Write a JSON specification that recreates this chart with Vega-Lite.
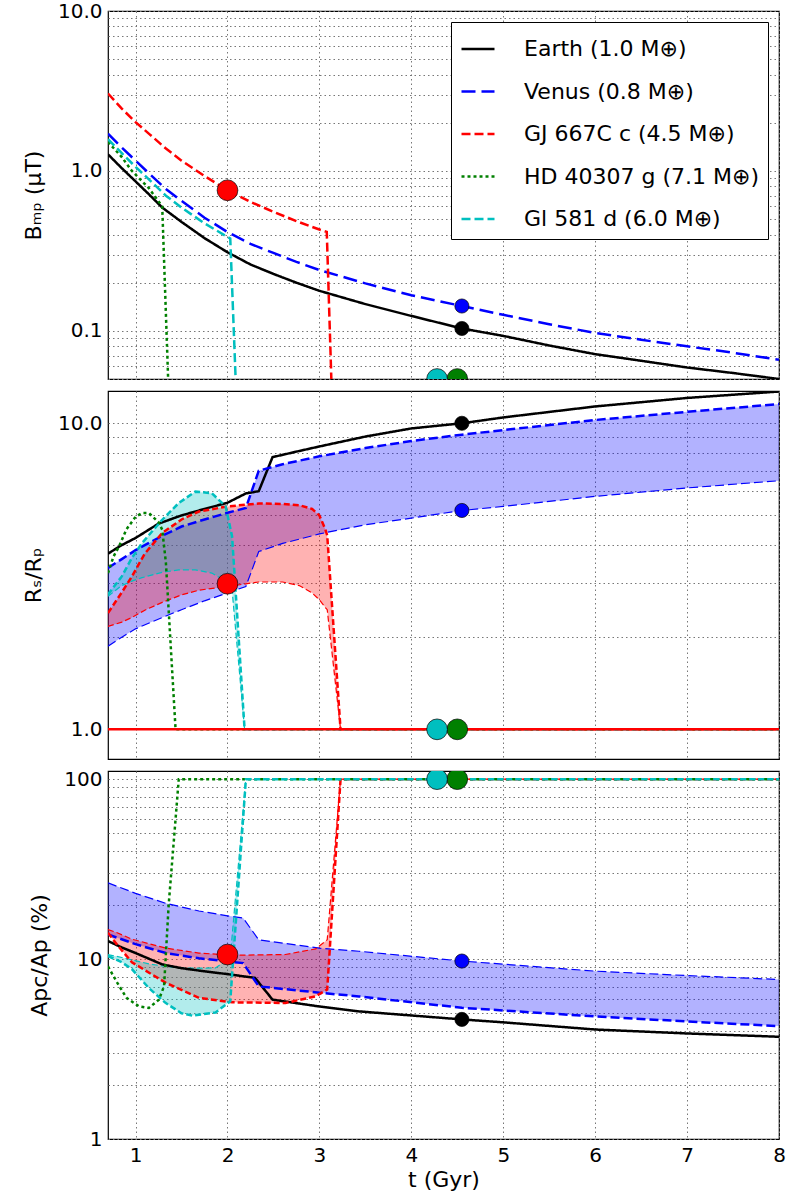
{
"$schema":"https://vega.github.io/schema/vega-lite/v6.json",
"background":"white",
"padding":{"left":21,"top":0,"right":2,"bottom":5},
"config":{
 "font":"DejaVu Sans",
 "view":{"stroke":"black","strokeWidth":1.2},
 "axis":{"labelFont":"DejaVu Sans","labelFontSize":20,"labelColor":"black","titleFont":"DejaVu Sans","titleFontSize":22,"titleFontWeight":"normal","titleColor":"black","grid":true,"gridColor":"#777","gridDash":[1.5,3],"gridWidth":1,"gridOpacity":1,"ticks":false,"domain":false,"labelPadding":6,"labelFlush":false,"labelOverlap":false},
 "legend":{"labelFont":"DejaVu Sans","labelFontSize":22,"labelColor":"black","labelLimit":500}
},
"datasets":{
"p1":[
{"p":"Earth (1.0 M⊕)","t":0.7,"m":1.27},{"p":"Earth (1.0 M⊕)","t":0.85,"m":1.04},{"p":"Earth (1.0 M⊕)","t":1.0,"m":0.86},{"p":"Earth (1.0 M⊕)","t":1.15,"m":0.71},{"p":"Earth (1.0 M⊕)","t":1.29,"m":0.59},{"p":"Earth (1.0 M⊕)","t":1.5,"m":0.48},{"p":"Earth (1.0 M⊕)","t":1.75,"m":0.38},{"p":"Earth (1.0 M⊕)","t":2.0,"m":0.31},{"p":"Earth (1.0 M⊕)","t":2.25,"m":0.26},{"p":"Earth (1.0 M⊕)","t":2.5,"m":0.227},{"p":"Earth (1.0 M⊕)","t":2.75,"m":0.2},{"p":"Earth (1.0 M⊕)","t":3.0,"m":0.178},{"p":"Earth (1.0 M⊕)","t":3.5,"m":0.147},{"p":"Earth (1.0 M⊕)","t":4.0,"m":0.124},{"p":"Earth (1.0 M⊕)","t":4.55,"m":0.1035},{"p":"Earth (1.0 M⊕)","t":5.0,"m":0.093},{"p":"Earth (1.0 M⊕)","t":5.5,"m":0.081},{"p":"Earth (1.0 M⊕)","t":6.0,"m":0.0715},{"p":"Earth (1.0 M⊕)","t":6.5,"m":0.065},{"p":"Earth (1.0 M⊕)","t":7.0,"m":0.059},{"p":"Earth (1.0 M⊕)","t":7.5,"m":0.0545},{"p":"Earth (1.0 M⊕)","t":8.0,"m":0.05},
{"p":"Venus (0.8 M⊕)","t":0.7,"m":1.71},{"p":"Venus (0.8 M⊕)","t":0.85,"m":1.4},{"p":"Venus (0.8 M⊕)","t":1.0,"m":1.16},{"p":"Venus (0.8 M⊕)","t":1.15,"m":0.96},{"p":"Venus (0.8 M⊕)","t":1.33,"m":0.77},{"p":"Venus (0.8 M⊕)","t":1.5,"m":0.65},{"p":"Venus (0.8 M⊕)","t":1.75,"m":0.51},{"p":"Venus (0.8 M⊕)","t":2.0,"m":0.415},{"p":"Venus (0.8 M⊕)","t":2.25,"m":0.35},{"p":"Venus (0.8 M⊕)","t":2.5,"m":0.307},{"p":"Venus (0.8 M⊕)","t":2.75,"m":0.27},{"p":"Venus (0.8 M⊕)","t":3.0,"m":0.24},{"p":"Venus (0.8 M⊕)","t":3.5,"m":0.198},{"p":"Venus (0.8 M⊕)","t":4.0,"m":0.167},{"p":"Venus (0.8 M⊕)","t":4.55,"m":0.143},{"p":"Venus (0.8 M⊕)","t":5.0,"m":0.126},{"p":"Venus (0.8 M⊕)","t":5.5,"m":0.11},{"p":"Venus (0.8 M⊕)","t":6.0,"m":0.097},{"p":"Venus (0.8 M⊕)","t":6.5,"m":0.088},{"p":"Venus (0.8 M⊕)","t":7.0,"m":0.08},{"p":"Venus (0.8 M⊕)","t":7.5,"m":0.073},{"p":"Venus (0.8 M⊕)","t":8.0,"m":0.066},
{"p":"GJ 667C c (4.5 M⊕)","t":0.7,"m":3.05},{"p":"GJ 667C c (4.5 M⊕)","t":0.85,"m":2.45},{"p":"GJ 667C c (4.5 M⊕)","t":1.0,"m":2.02},{"p":"GJ 667C c (4.5 M⊕)","t":1.15,"m":1.7},{"p":"GJ 667C c (4.5 M⊕)","t":1.33,"m":1.38},{"p":"GJ 667C c (4.5 M⊕)","t":1.5,"m":1.16},{"p":"GJ 667C c (4.5 M⊕)","t":1.75,"m":0.93},{"p":"GJ 667C c (4.5 M⊕)","t":2.0,"m":0.757},{"p":"GJ 667C c (4.5 M⊕)","t":2.25,"m":0.64},{"p":"GJ 667C c (4.5 M⊕)","t":2.5,"m":0.555},{"p":"GJ 667C c (4.5 M⊕)","t":2.75,"m":0.485},{"p":"GJ 667C c (4.5 M⊕)","t":3.0,"m":0.43},{"p":"GJ 667C c (4.5 M⊕)","t":3.08,"m":0.416},{"p":"GJ 667C c (4.5 M⊕)","t":3.135,"m":0.04},
{"p":"HD 40307 g (7.1 M⊕)","t":0.7,"m":1.52},{"p":"HD 40307 g (7.1 M⊕)","t":0.85,"m":1.22},{"p":"HD 40307 g (7.1 M⊕)","t":0.96,"m":1.0},{"p":"HD 40307 g (7.1 M⊕)","t":1.145,"m":0.78},{"p":"HD 40307 g (7.1 M⊕)","t":1.29,"m":0.6},{"p":"HD 40307 g (7.1 M⊕)","t":1.36,"m":0.04},
{"p":"Gl 581 d (6.0 M⊕)","t":0.7,"m":1.58},{"p":"Gl 581 d (6.0 M⊕)","t":0.85,"m":1.29},{"p":"Gl 581 d (6.0 M⊕)","t":1.0,"m":1.06},{"p":"Gl 581 d (6.0 M⊕)","t":1.15,"m":0.88},{"p":"Gl 581 d (6.0 M⊕)","t":1.33,"m":0.7},{"p":"Gl 581 d (6.0 M⊕)","t":1.5,"m":0.59},{"p":"Gl 581 d (6.0 M⊕)","t":1.75,"m":0.47},{"p":"Gl 581 d (6.0 M⊕)","t":2.03,"m":0.378},{"p":"Gl 581 d (6.0 M⊕)","t":2.095,"m":0.04}
],
"k1":[
{"p":"Earth (1.0 M⊕)","t":4.55,"m":0.1035,"big":false},{"p":"Venus (0.8 M⊕)","t":4.55,"m":0.143,"big":false},{"p":"GJ 667C c (4.5 M⊕)","t":2.0,"m":0.757,"big":true},{"p":"HD 40307 g (7.1 M⊕)","t":4.5,"m":0.05,"big":true},{"p":"Gl 581 d (6.0 M⊕)","t":4.28,"m":0.05,"big":true}
],
"p2":[
{"p":"Earth (1.0 M⊕)","t":0.7,"m":3.75},{"p":"Earth (1.0 M⊕)","t":0.85,"m":4.0},{"p":"Earth (1.0 M⊕)","t":1.0,"m":4.22},{"p":"Earth (1.0 M⊕)","t":1.25,"m":4.7},{"p":"Earth (1.0 M⊕)","t":1.5,"m":5.0},{"p":"Earth (1.0 M⊕)","t":1.75,"m":5.25},{"p":"Earth (1.0 M⊕)","t":2.0,"m":5.5},{"p":"Earth (1.0 M⊕)","t":2.2,"m":5.9},{"p":"Earth (1.0 M⊕)","t":2.34,"m":6.0},{"p":"Earth (1.0 M⊕)","t":2.49,"m":7.75},{"p":"Earth (1.0 M⊕)","t":2.75,"m":8.08},{"p":"Earth (1.0 M⊕)","t":3.0,"m":8.4},{"p":"Earth (1.0 M⊕)","t":3.5,"m":9.05},{"p":"Earth (1.0 M⊕)","t":4.0,"m":9.62},{"p":"Earth (1.0 M⊕)","t":4.55,"m":10.0},{"p":"Earth (1.0 M⊕)","t":5.0,"m":10.45},{"p":"Earth (1.0 M⊕)","t":6.0,"m":11.35},{"p":"Earth (1.0 M⊕)","t":7.0,"m":12.1},{"p":"Earth (1.0 M⊕)","t":8.0,"m":12.7},
{"p":"Venus (0.8 M⊕)","t":0.7,"m":3.37,"a":1.87},{"p":"Venus (0.8 M⊕)","t":0.85,"m":3.6,"a":2.0},{"p":"Venus (0.8 M⊕)","t":1.0,"m":3.85,"a":2.13},{"p":"Venus (0.8 M⊕)","t":1.29,"m":4.29,"a":2.32},{"p":"Venus (0.8 M⊕)","t":1.5,"m":4.6,"a":2.46},{"p":"Venus (0.8 M⊕)","t":1.75,"m":4.85,"a":2.63},{"p":"Venus (0.8 M⊕)","t":2.0,"m":5.1,"a":2.79},{"p":"Venus (0.8 M⊕)","t":2.2,"m":5.29,"a":2.93},{"p":"Venus (0.8 M⊕)","t":2.34,"m":7.0,"a":3.81},{"p":"Venus (0.8 M⊕)","t":2.6,"m":7.35,"a":4.05},{"p":"Venus (0.8 M⊕)","t":3.0,"m":7.8,"a":4.35},{"p":"Venus (0.8 M⊕)","t":3.5,"m":8.3,"a":4.66},{"p":"Venus (0.8 M⊕)","t":4.0,"m":8.75,"a":4.9},{"p":"Venus (0.8 M⊕)","t":4.55,"m":9.18,"a":5.19},{"p":"Venus (0.8 M⊕)","t":5.0,"m":9.5,"a":5.35},{"p":"Venus (0.8 M⊕)","t":6.0,"m":10.25,"a":5.77},{"p":"Venus (0.8 M⊕)","t":7.0,"m":10.9,"a":6.15},{"p":"Venus (0.8 M⊕)","t":8.0,"m":11.56,"a":6.49},
{"p":"GJ 667C c (4.5 M⊕)","t":0.7,"m":2.4,"a":2.17},{"p":"GJ 667C c (4.5 M⊕)","t":0.85,"m":2.8,"a":2.24},{"p":"GJ 667C c (4.5 M⊕)","t":0.96,"m":3.16,"a":2.32},{"p":"GJ 667C c (4.5 M⊕)","t":1.1,"m":3.75,"a":2.45},{"p":"GJ 667C c (4.5 M⊕)","t":1.29,"m":4.38,"a":2.6},{"p":"GJ 667C c (4.5 M⊕)","t":1.5,"m":4.85,"a":2.75},{"p":"GJ 667C c (4.5 M⊕)","t":1.69,"m":5.15,"a":2.85},{"p":"GJ 667C c (4.5 M⊕)","t":2.0,"m":5.35,"a":2.93},{"p":"GJ 667C c (4.5 M⊕)","t":2.34,"m":5.47,"a":3.03},{"p":"GJ 667C c (4.5 M⊕)","t":2.6,"m":5.45,"a":3.03},{"p":"GJ 667C c (4.5 M⊕)","t":2.78,"m":5.4,"a":2.95},{"p":"GJ 667C c (4.5 M⊕)","t":2.92,"m":5.25,"a":2.79},{"p":"GJ 667C c (4.5 M⊕)","t":3.0,"m":5.0,"a":2.65},{"p":"GJ 667C c (4.5 M⊕)","t":3.065,"m":4.5,"a":2.5},{"p":"GJ 667C c (4.5 M⊕)","t":3.085,"m":4.3,"a":2.46},{"p":"GJ 667C c (4.5 M⊕)","t":3.23,"m":1.0,"a":1.0},{"p":"GJ 667C c (4.5 M⊕)","t":8.0,"m":1.0,"a":1.0},
{"p":"HD 40307 g (7.1 M⊕)","t":0.7,"m":3.24},{"p":"HD 40307 g (7.1 M⊕)","t":0.76,"m":3.67},{"p":"HD 40307 g (7.1 M⊕)","t":0.82,"m":3.96},{"p":"HD 40307 g (7.1 M⊕)","t":0.9,"m":4.5},{"p":"HD 40307 g (7.1 M⊕)","t":1.0,"m":4.95},{"p":"HD 40307 g (7.1 M⊕)","t":1.07,"m":5.09},{"p":"HD 40307 g (7.1 M⊕)","t":1.145,"m":5.09},{"p":"HD 40307 g (7.1 M⊕)","t":1.25,"m":4.75},{"p":"HD 40307 g (7.1 M⊕)","t":1.29,"m":4.49},{"p":"HD 40307 g (7.1 M⊕)","t":1.33,"m":3.5},{"p":"HD 40307 g (7.1 M⊕)","t":1.435,"m":1.0},{"p":"HD 40307 g (7.1 M⊕)","t":8.0,"m":1.0},
{"p":"Gl 581 d (6.0 M⊕)","t":0.7,"m":2.76,"a":2.72},{"p":"Gl 581 d (6.0 M⊕)","t":0.85,"m":3.16,"a":2.95},{"p":"Gl 581 d (6.0 M⊕)","t":0.96,"m":3.63,"a":3.05},{"p":"Gl 581 d (6.0 M⊕)","t":1.07,"m":4.06,"a":3.13},{"p":"Gl 581 d (6.0 M⊕)","t":1.29,"m":4.84,"a":3.26},{"p":"Gl 581 d (6.0 M⊕)","t":1.47,"m":5.49,"a":3.32},{"p":"Gl 581 d (6.0 M⊕)","t":1.65,"m":5.98,"a":3.32},{"p":"Gl 581 d (6.0 M⊕)","t":1.83,"m":5.91,"a":3.24},{"p":"Gl 581 d (6.0 M⊕)","t":1.98,"m":5.35,"a":3.05},{"p":"Gl 581 d (6.0 M⊕)","t":2.05,"m":4.27,"a":2.85},{"p":"Gl 581 d (6.0 M⊕)","t":2.186,"m":1.0,"a":1.0},{"p":"Gl 581 d (6.0 M⊕)","t":8.0,"m":1.0,"a":1.0}
],
"k2":[
{"p":"Earth (1.0 M⊕)","t":4.55,"m":10.0,"big":false},{"p":"Venus (0.8 M⊕)","t":4.55,"m":5.19,"big":false},{"p":"GJ 667C c (4.5 M⊕)","t":2.0,"m":2.99,"big":true},{"p":"HD 40307 g (7.1 M⊕)","t":4.5,"m":1.0,"big":true},{"p":"Gl 581 d (6.0 M⊕)","t":4.28,"m":1.0,"big":true}
],
"p3":[
{"p":"Earth (1.0 M⊕)","t":0.7,"m":12.6},{"p":"Earth (1.0 M⊕)","t":0.85,"m":11.6},{"p":"Earth (1.0 M⊕)","t":1.0,"m":10.8},{"p":"Earth (1.0 M⊕)","t":1.29,"m":9.34},{"p":"Earth (1.0 M⊕)","t":1.5,"m":8.9},{"p":"Earth (1.0 M⊕)","t":1.75,"m":8.55},{"p":"Earth (1.0 M⊕)","t":2.0,"m":8.25},{"p":"Earth (1.0 M⊕)","t":2.3,"m":7.86},{"p":"Earth (1.0 M⊕)","t":2.49,"m":5.95},{"p":"Earth (1.0 M⊕)","t":3.0,"m":5.45},{"p":"Earth (1.0 M⊕)","t":3.43,"m":5.12},{"p":"Earth (1.0 M⊕)","t":4.55,"m":4.62},{"p":"Earth (1.0 M⊕)","t":5.0,"m":4.45},{"p":"Earth (1.0 M⊕)","t":6.0,"m":4.06},{"p":"Earth (1.0 M⊕)","t":7.0,"m":3.86},{"p":"Earth (1.0 M⊕)","t":8.0,"m":3.7},
{"p":"Venus (0.8 M⊕)","t":0.7,"m":13.7,"a":26.5},{"p":"Venus (0.8 M⊕)","t":1.0,"m":12.1,"a":23.2},{"p":"Venus (0.8 M⊕)","t":1.33,"m":10.8,"a":20.4},{"p":"Venus (0.8 M⊕)","t":1.69,"m":10.1,"a":18.5},{"p":"Venus (0.8 M⊕)","t":2.0,"m":9.7,"a":17.4},{"p":"Venus (0.8 M⊕)","t":2.17,"m":9.5,"a":16.9},{"p":"Venus (0.8 M⊕)","t":2.34,"m":7.05,"a":12.8},{"p":"Venus (0.8 M⊕)","t":3.0,"m":6.5,"a":11.5},{"p":"Venus (0.8 M⊕)","t":3.43,"m":6.2,"a":11.05},{"p":"Venus (0.8 M⊕)","t":4.55,"m":5.36,"a":9.75},{"p":"Venus (0.8 M⊕)","t":6.0,"m":4.8,"a":8.57},{"p":"Venus (0.8 M⊕)","t":7.0,"m":4.5,"a":8.1},{"p":"Venus (0.8 M⊕)","t":8.0,"m":4.24,"a":7.7},
{"p":"GJ 667C c (4.5 M⊕)","t":0.7,"m":14.0,"a":14.6},{"p":"GJ 667C c (4.5 M⊕)","t":0.8,"m":12.0,"a":14.0},{"p":"GJ 667C c (4.5 M⊕)","t":0.96,"m":9.6,"a":12.9},{"p":"GJ 667C c (4.5 M⊕)","t":1.33,"m":7.37,"a":11.5},{"p":"GJ 667C c (4.5 M⊕)","t":1.69,"m":6.09,"a":10.8},{"p":"GJ 667C c (4.5 M⊕)","t":2.05,"m":5.75,"a":10.5},{"p":"GJ 667C c (4.5 M⊕)","t":2.63,"m":5.7,"a":10.6},{"p":"GJ 667C c (4.5 M⊕)","t":2.96,"m":6.21,"a":11.4},{"p":"GJ 667C c (4.5 M⊕)","t":3.085,"m":6.78,"a":12.8},{"p":"GJ 667C c (4.5 M⊕)","t":3.23,"m":100,"a":100},{"p":"GJ 667C c (4.5 M⊕)","t":8.0,"m":100,"a":100},
{"p":"HD 40307 g (7.1 M⊕)","t":0.7,"m":9.1},{"p":"HD 40307 g (7.1 M⊕)","t":0.8,"m":7.4},{"p":"HD 40307 g (7.1 M⊕)","t":0.9,"m":6.1},{"p":"HD 40307 g (7.1 M⊕)","t":1.036,"m":5.46},{"p":"HD 40307 g (7.1 M⊕)","t":1.145,"m":5.35},{"p":"HD 40307 g (7.1 M⊕)","t":1.254,"m":5.95},{"p":"HD 40307 g (7.1 M⊕)","t":1.31,"m":7.07},{"p":"HD 40307 g (7.1 M⊕)","t":1.36,"m":20},{"p":"HD 40307 g (7.1 M⊕)","t":1.47,"m":100},{"p":"HD 40307 g (7.1 M⊕)","t":8.0,"m":100},
{"p":"Gl 581 d (6.0 M⊕)","t":0.7,"m":10.4,"a":10.6},{"p":"Gl 581 d (6.0 M⊕)","t":0.85,"m":9.6,"a":10.2},{"p":"Gl 581 d (6.0 M⊕)","t":0.96,"m":8.8,"a":9.9},{"p":"Gl 581 d (6.0 M⊕)","t":1.145,"m":6.9,"a":9.4},{"p":"Gl 581 d (6.0 M⊕)","t":1.326,"m":5.71,"a":9.1},{"p":"Gl 581 d (6.0 M⊕)","t":1.5,"m":5.0,"a":8.93},{"p":"Gl 581 d (6.0 M⊕)","t":1.616,"m":4.85,"a":8.9},{"p":"Gl 581 d (6.0 M⊕)","t":1.87,"m":5.05,"a":8.93},{"p":"Gl 581 d (6.0 M⊕)","t":2.03,"m":5.83,"a":10.2},{"p":"Gl 581 d (6.0 M⊕)","t":2.2,"m":100,"a":100},{"p":"Gl 581 d (6.0 M⊕)","t":8.0,"m":100,"a":100}
],
"k3":[
{"p":"Earth (1.0 M⊕)","t":4.55,"m":4.62,"big":false},{"p":"Venus (0.8 M⊕)","t":4.55,"m":9.75,"big":false},{"p":"GJ 667C c (4.5 M⊕)","t":2.0,"m":10.6,"big":true},{"p":"HD 40307 g (7.1 M⊕)","t":4.5,"m":100,"big":true},{"p":"Gl 581 d (6.0 M⊕)","t":4.28,"m":100,"big":true}
]
},
"spacing":12,
"bounds":"flush",
"resolve":{"scale":{"color":"independent","strokeDash":"independent","fill":"independent"}},
"vconcat":[
{
 "width":671,"height":368,
 "layer":[
  {"data":{"name":"p1"},
   "mark":{"type":"line","clip":true,"strokeWidth":2.5},
   "encoding":{
    "x":{"field":"t","type":"quantitative","scale":{"domain":[0.7,8],"nice":false,"zero":false},"axis":{"values":[1,2,3,4,5,6,7,8],"labels":false,"title":null}},
    "y":{"field":"m","type":"quantitative","scale":{"type":"log","domain":[0.05,10],"nice":false},"axis":{"values":[0.05,0.06,0.07,0.08,0.09,0.1,0.2,0.3,0.4,0.5,0.6,0.7,0.8,0.9,1,2,3,4,5,6,7,8,9,10],"labelExpr":"datum.value == 10 ? '10.0' : datum.value == 1 ? '1.0' : datum.value == 0.1 ? '0.1' : ''","title":"Bₘₚ (μT)","titlePadding":12}},
    "color":{"field":"p","type":"nominal","scale":{"domain":["Earth (1.0 M⊕)","Venus (0.8 M⊕)","GJ 667C c (4.5 M⊕)","HD 40307 g (7.1 M⊕)","Gl 581 d (6.0 M⊕)"],"range":["#000000","#0000ff","#ff0000","#008000","#00bfbf"]},"legend":{"title":null,"orient":"top-right","offset":11,"padding":9,"rowPadding":13.5,"strokeColor":"black","fillColor":"white","cornerRadius":0,"symbolType":"stroke","symbolSize":1089,"symbolStrokeWidth":2.5,"labelOffset":28}},
    "strokeDash":{"field":"p","type":"nominal","scale":{"domain":["Earth (1.0 M⊕)","Venus (0.8 M⊕)","GJ 667C c (4.5 M⊕)","HD 40307 g (7.1 M⊕)","Gl 581 d (6.0 M⊕)"],"range":[[1,0],[14,6],[9,4],[3,3],[9,4]]},"legend":{"title":null,"orient":"top-right","offset":11,"padding":9,"rowPadding":13.5,"strokeColor":"black","fillColor":"white","cornerRadius":0,"symbolType":"stroke","symbolSize":1089,"symbolStrokeWidth":2.5,"labelOffset":28}}
   }},
  {"data":{"name":"k1"},
   "transform":[{"filter":"!datum.big"}],
   "mark":{"type":"point","shape":"circle","filled":true,"opacity":1,"stroke":"black","strokeWidth":0.7,"clip":true,"size":200},
   "encoding":{
    "x":{"field":"t","type":"quantitative"},
    "y":{"field":"m","type":"quantitative"},
    "fill":{"field":"p","type":"nominal","scale":{"domain":["Earth (1.0 M⊕)","Venus (0.8 M⊕)","GJ 667C c (4.5 M⊕)","HD 40307 g (7.1 M⊕)","Gl 581 d (6.0 M⊕)"],"range":["#000000","#0000ff","#ff0000","#008000","#00bfbf"]},"legend":null}
   }},
  {"data":{"name":"k1"},
   "transform":[{"filter":"datum.big"}],
   "mark":{"type":"point","shape":"circle","filled":true,"opacity":1,"stroke":"black","strokeWidth":0.7,"clip":true,"size":430},
   "encoding":{
    "x":{"field":"t","type":"quantitative"},
    "y":{"field":"m","type":"quantitative"},
    "fill":{"field":"p","type":"nominal","legend":null}
   }}
 ]
},
{
 "width":671,"height":368,
 "layer":[
  {"data":{"name":"p2"},
   "transform":[{"filter":"isValid(datum.a)"}],
   "mark":{"type":"area","opacity":0.3,"clip":true},
   "encoding":{
    "x":{"field":"t","type":"quantitative","scale":{"domain":[0.7,8],"nice":false,"zero":false},"axis":{"values":[1,2,3,4,5,6,7,8],"labels":false,"title":null}},
    "y":{"field":"m","type":"quantitative","scale":{"type":"log","domain":[0.8,12.75],"nice":false},"axis":{"values":[1,2,3,4,5,6,7,8,9,10],"labelExpr":"datum.value == 10 ? '10.0' : datum.value == 1 ? '1.0' : ''","title":"Rₛ/Rₚ","titlePadding":12}},
    "y2":{"field":"a"},
    "color":{"field":"p","type":"nominal","scale":{"domain":["Earth (1.0 M⊕)","Venus (0.8 M⊕)","GJ 667C c (4.5 M⊕)","HD 40307 g (7.1 M⊕)","Gl 581 d (6.0 M⊕)"],"range":["#000000","#0000ff","#ff0000","#008000","#00bfbf"]},"legend":null}
   }},
  {"data":{"name":"p2"},
   "transform":[{"filter":"isValid(datum.a)"}],
   "mark":{"type":"line","clip":true,"strokeWidth":1.2},
   "encoding":{
    "x":{"field":"t","type":"quantitative"},
    "y":{"field":"a","type":"quantitative"},
    "color":{"field":"p","type":"nominal","legend":null},
    "strokeDash":{"field":"p","type":"nominal","scale":{"domain":["Earth (1.0 M⊕)","Venus (0.8 M⊕)","GJ 667C c (4.5 M⊕)","HD 40307 g (7.1 M⊕)","Gl 581 d (6.0 M⊕)"],"range":[[1,0],[9,4],[6,3],[3,3],[6,3]]},"legend":null}
   }},
  {"data":{"name":"p2"},
   "mark":{"type":"line","clip":true,"strokeWidth":2.5},
   "encoding":{
    "x":{"field":"t","type":"quantitative"},
    "y":{"field":"m","type":"quantitative"},
    "color":{"field":"p","type":"nominal","legend":null},
    "strokeDash":{"field":"p","type":"nominal","legend":null}
   }},
  {"data":{"values":[{"level":1}]},
   "mark":{"type":"rule","color":"#ff0000","strokeWidth":2.5},
   "encoding":{"y":{"field":"level","type":"quantitative"}}},
  {"data":{"name":"k2"},
   "transform":[{"filter":"!datum.big"}],
   "mark":{"type":"point","shape":"circle","filled":true,"opacity":1,"stroke":"black","strokeWidth":0.7,"clip":true,"size":200},
   "encoding":{
    "x":{"field":"t","type":"quantitative"},
    "y":{"field":"m","type":"quantitative"},
    "fill":{"field":"p","type":"nominal","scale":{"domain":["Earth (1.0 M⊕)","Venus (0.8 M⊕)","GJ 667C c (4.5 M⊕)","HD 40307 g (7.1 M⊕)","Gl 581 d (6.0 M⊕)"],"range":["#000000","#0000ff","#ff0000","#008000","#00bfbf"]},"legend":null}
   }},
  {"data":{"name":"k2"},
   "transform":[{"filter":"datum.big"}],
   "mark":{"type":"point","shape":"circle","filled":true,"opacity":1,"stroke":"black","strokeWidth":0.7,"clip":true,"size":430},
   "encoding":{
    "x":{"field":"t","type":"quantitative"},
    "y":{"field":"m","type":"quantitative"},
    "fill":{"field":"p","type":"nominal","legend":null}
   }}
 ]
},
{
 "width":671,"height":368,
 "layer":[
  {"data":{"name":"p3"},
   "transform":[{"filter":"isValid(datum.a)"}],
   "mark":{"type":"area","opacity":0.3,"clip":true},
   "encoding":{
    "x":{"field":"t","type":"quantitative","scale":{"domain":[0.7,8],"nice":false,"zero":false},"axis":{"values":[1,2,3,4,5,6,7,8],"format":"d","title":"t (Gyr)","titlePadding":4}},
    "y":{"field":"m","type":"quantitative","scale":{"type":"log","domain":[1,111],"nice":false},"axis":{"values":[1,2,3,4,5,6,7,8,9,10,20,30,40,50,60,70,80,90,100],"labelExpr":"datum.value == 100 ? '100' : datum.value == 10 ? '10' : datum.value == 1 ? '1' : ''","title":"Apc/Ap (%)","titlePadding":12}},
    "y2":{"field":"a"},
    "color":{"field":"p","type":"nominal","scale":{"domain":["Earth (1.0 M⊕)","Venus (0.8 M⊕)","GJ 667C c (4.5 M⊕)","HD 40307 g (7.1 M⊕)","Gl 581 d (6.0 M⊕)"],"range":["#000000","#0000ff","#ff0000","#008000","#00bfbf"]},"legend":null}
   }},
  {"data":{"name":"p3"},
   "transform":[{"filter":"isValid(datum.a)"}],
   "mark":{"type":"line","clip":true,"strokeWidth":1.2},
   "encoding":{
    "x":{"field":"t","type":"quantitative"},
    "y":{"field":"a","type":"quantitative"},
    "color":{"field":"p","type":"nominal","legend":null},
    "strokeDash":{"field":"p","type":"nominal","scale":{"domain":["Earth (1.0 M⊕)","Venus (0.8 M⊕)","GJ 667C c (4.5 M⊕)","HD 40307 g (7.1 M⊕)","Gl 581 d (6.0 M⊕)"],"range":[[1,0],[9,4],[6,3],[3,3],[6,3]]},"legend":null}
   }},
  {"data":{"name":"p3"},
   "mark":{"type":"line","clip":true,"strokeWidth":2.5},
   "encoding":{
    "x":{"field":"t","type":"quantitative"},
    "y":{"field":"m","type":"quantitative"},
    "color":{"field":"p","type":"nominal","legend":null},
    "strokeDash":{"field":"p","type":"nominal","legend":null}
   }},
  {"data":{"name":"k3"},
   "transform":[{"filter":"!datum.big"}],
   "mark":{"type":"point","shape":"circle","filled":true,"opacity":1,"stroke":"black","strokeWidth":0.7,"clip":true,"size":200},
   "encoding":{
    "x":{"field":"t","type":"quantitative"},
    "y":{"field":"m","type":"quantitative"},
    "fill":{"field":"p","type":"nominal","scale":{"domain":["Earth (1.0 M⊕)","Venus (0.8 M⊕)","GJ 667C c (4.5 M⊕)","HD 40307 g (7.1 M⊕)","Gl 581 d (6.0 M⊕)"],"range":["#000000","#0000ff","#ff0000","#008000","#00bfbf"]},"legend":null}
   }},
  {"data":{"name":"k3"},
   "transform":[{"filter":"datum.big"}],
   "mark":{"type":"point","shape":"circle","filled":true,"opacity":1,"stroke":"black","strokeWidth":0.7,"clip":true,"size":430},
   "encoding":{
    "x":{"field":"t","type":"quantitative"},
    "y":{"field":"m","type":"quantitative"},
    "fill":{"field":"p","type":"nominal","legend":null}
   }}
 ]
}
]
}
